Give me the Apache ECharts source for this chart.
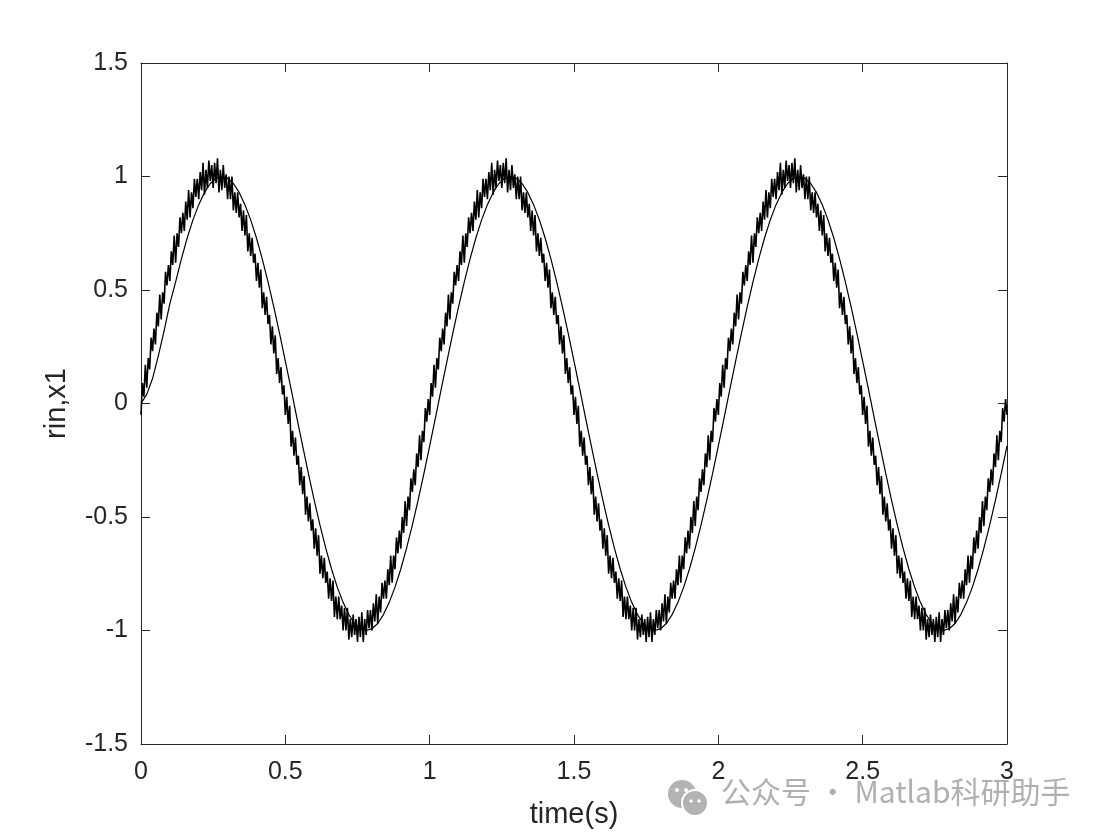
<!DOCTYPE html>
<html>
<head>
<meta charset="utf-8">
<script src="https://cdn.jsdelivr.net/npm/echarts@6/dist/echarts.min.js"></script>
<style>
html,body{margin:0;padding:0;background:#fff;}
#chart{width:1106px;height:834px;}
</style>
</head>
<body>
<div id="chart"></div>
<script>
// Axis ticks
var xTicks = [0, 0.5, 1, 1.5, 2, 2.5, 3];
var yTicks = [-1.5, -1, -0.5, 0, 0.5, 1, 1.5];

// Smooth curve (sampled every 0.02 s, from t = 0 to 3)
var smoothStep = 0.02;
var smoothValues = [
  0, 0.04, 0.11, 0.21, 0.32, 0.44,
  0.536,0.637,0.729,0.809,0.876,0.930,0.969,0.992,1,0.992,0.969,0.930,0.876,0.809,0.729,0.637,0.536,0.426,0.309,0.187,0.063,
  -0.063,-0.187,-0.309,-0.426,-0.536,-0.637,-0.729,-0.809,-0.876,-0.930,-0.969,-0.992,-1,-0.992,-0.969,-0.930,-0.876,-0.809,-0.729,-0.637,-0.536,-0.426,-0.309,-0.187,-0.063,
  0.063,0.187,0.309,0.426,0.536,0.637,0.729,0.809,0.876,0.930,0.969,0.992,1,0.992,0.969,0.930,0.876,0.809,0.729,0.637,0.536,0.426,0.309,0.187,0.063,
  -0.063,-0.187,-0.309,-0.426,-0.536,-0.637,-0.729,-0.809,-0.876,-0.930,-0.969,-0.992,-1,-0.992,-0.969,-0.930,-0.876,-0.809,-0.729,-0.637,-0.536,-0.426,-0.309,-0.187,-0.063,
  0.063,0.187,0.309,0.426,0.536,0.637,0.729,0.809,0.876,0.930,0.969,0.992,1,0.992,0.969,0.930,0.876,0.809,0.729,0.637,0.536,0.426,0.309,0.187,0.063,
  -0.063,-0.187,-0.309,-0.426,-0.536,-0.637,-0.729,-0.809,-0.876,-0.930,-0.969,-0.992,-1,-0.992,-0.969,-0.930,-0.876,-0.809,-0.729,-0.637,-0.536,-0.426,-0.309,-0.187
];

// Noisy curve (sampled every 0.005 s, from t = 0 to 3)
var noisyStep = 0.005;
var noisyValues = [
  // cycle 1
  -0.05,0.09,0.03,0.17,0.07,0.20,0.15,0.29,0.23,0.33,
  0.26,0.40,0.34,0.48,0.37,0.49,0.44,0.58,0.52,0.61,
  0.54,0.67,0.61,0.74,0.62,0.75,0.69,0.82,0.75,0.84,
  0.76,0.89,0.81,0.94,0.82,0.93,0.86,0.99,0.91,0.99,
  0.90,1.02,0.94,1.06,0.92,1.03,0.95,1.07,0.98,1.05,
  0.95,1.06,0.97,1.08,0.93,1.03,0.94,1.05,0.95,1.01,
  0.90,1.00,0.90,1.00,0.85,0.93,0.84,0.93,0.82,0.88,
  0.76,0.85,0.74,0.83,0.67,0.75,0.65,0.73,0.62,0.66,
  0.54,0.62,0.51,0.59,0.42,0.49,0.39,0.47,0.35,0.39,
  0.26,0.34,0.22,0.30,0.13,0.20,0.09,0.16,0.04,0.08,
  -0.05,0.03,-0.09,-0.01,-0.19,-0.12,-0.23,-0.15,-0.27,-0.23,
  -0.36,-0.28,-0.40,-0.32,-0.49,-0.41,-0.52,-0.44,-0.56,-0.51,
  -0.64,-0.55,-0.67,-0.58,-0.75,-0.67,-0.77,-0.68,-0.79,-0.74,
  -0.86,-0.77,-0.87,-0.78,-0.94,-0.85,-0.95,-0.85,-0.95,-0.89,
  -1.00,-0.90,-1.00,-0.90,-1.04,-0.95,-1.03,-0.93,-1.02,-0.95,
  -1.05,-0.94,-1.03,-0.92,-1.05,-0.95,-1.02,-0.91,-0.99,-0.91,
  -1.00,-0.88,-0.96,-0.84,-0.97,-0.85,-0.92,-0.79,-0.86,-0.78,
  -0.86,-0.73,-0.80,-0.67,-0.79,-0.67,-0.73,-0.59,-0.66,-0.56,
  -0.64,-0.50,-0.57,-0.43,-0.54,-0.41,-0.47,-0.33,-0.39,-0.29,
  -0.36,-0.22,-0.28,-0.14,-0.25,-0.12,-0.17,-0.02,-0.08,0.02,
  // cycle 2
  -0.05,0.09,0.03,0.17,0.07,0.20,0.15,0.29,0.23,0.33,
  0.26,0.40,0.34,0.48,0.37,0.49,0.44,0.58,0.52,0.61,
  0.54,0.67,0.61,0.74,0.62,0.75,0.69,0.82,0.75,0.84,
  0.76,0.89,0.81,0.94,0.82,0.93,0.86,0.99,0.91,0.99,
  0.90,1.02,0.94,1.06,0.92,1.03,0.95,1.07,0.98,1.05,
  0.95,1.06,0.97,1.08,0.93,1.03,0.94,1.05,0.95,1.01,
  0.90,1.00,0.90,1.00,0.85,0.93,0.84,0.93,0.82,0.88,
  0.76,0.85,0.74,0.83,0.67,0.75,0.65,0.73,0.62,0.66,
  0.54,0.62,0.51,0.59,0.42,0.49,0.39,0.47,0.35,0.39,
  0.26,0.34,0.22,0.30,0.13,0.20,0.09,0.16,0.04,0.08,
  -0.05,0.03,-0.09,-0.01,-0.19,-0.12,-0.23,-0.15,-0.27,-0.23,
  -0.36,-0.28,-0.40,-0.32,-0.49,-0.41,-0.52,-0.44,-0.56,-0.51,
  -0.64,-0.55,-0.67,-0.58,-0.75,-0.67,-0.77,-0.68,-0.79,-0.74,
  -0.86,-0.77,-0.87,-0.78,-0.94,-0.85,-0.95,-0.85,-0.95,-0.89,
  -1.00,-0.90,-1.00,-0.90,-1.04,-0.95,-1.03,-0.93,-1.02,-0.95,
  -1.05,-0.94,-1.03,-0.92,-1.05,-0.95,-1.02,-0.91,-0.99,-0.91,
  -1.00,-0.88,-0.96,-0.84,-0.97,-0.85,-0.92,-0.79,-0.86,-0.78,
  -0.86,-0.73,-0.80,-0.67,-0.79,-0.67,-0.73,-0.59,-0.66,-0.56,
  -0.64,-0.50,-0.57,-0.43,-0.54,-0.41,-0.47,-0.33,-0.39,-0.29,
  -0.36,-0.22,-0.28,-0.14,-0.25,-0.12,-0.17,-0.02,-0.08,0.02,
  // cycle 3
  -0.05,0.09,0.03,0.17,0.07,0.20,0.15,0.29,0.23,0.33,
  0.26,0.40,0.34,0.48,0.37,0.49,0.44,0.58,0.52,0.61,
  0.54,0.67,0.61,0.74,0.62,0.75,0.69,0.82,0.75,0.84,
  0.76,0.89,0.81,0.94,0.82,0.93,0.86,0.99,0.91,0.99,
  0.90,1.02,0.94,1.06,0.92,1.03,0.95,1.07,0.98,1.05,
  0.95,1.06,0.97,1.08,0.93,1.03,0.94,1.05,0.95,1.01,
  0.90,1.00,0.90,1.00,0.85,0.93,0.84,0.93,0.82,0.88,
  0.76,0.85,0.74,0.83,0.67,0.75,0.65,0.73,0.62,0.66,
  0.54,0.62,0.51,0.59,0.42,0.49,0.39,0.47,0.35,0.39,
  0.26,0.34,0.22,0.30,0.13,0.20,0.09,0.16,0.04,0.08,
  -0.05,0.03,-0.09,-0.01,-0.19,-0.12,-0.23,-0.15,-0.27,-0.23,
  -0.36,-0.28,-0.40,-0.32,-0.49,-0.41,-0.52,-0.44,-0.56,-0.51,
  -0.64,-0.55,-0.67,-0.58,-0.75,-0.67,-0.77,-0.68,-0.79,-0.74,
  -0.86,-0.77,-0.87,-0.78,-0.94,-0.85,-0.95,-0.85,-0.95,-0.89,
  -1.00,-0.90,-1.00,-0.90,-1.04,-0.95,-1.03,-0.93,-1.02,-0.95,
  -1.05,-0.94,-1.03,-0.92,-1.05,-0.95,-1.02,-0.91,-0.99,-0.91,
  -1.00,-0.88,-0.96,-0.84,-0.97,-0.85,-0.92,-0.79,-0.86,-0.78,
  -0.86,-0.73,-0.80,-0.67,-0.79,-0.67,-0.73,-0.59,-0.66,-0.56,
  -0.64,-0.50,-0.57,-0.43,-0.54,-0.41,-0.47,-0.33,-0.39,-0.29,
  -0.36,-0.22,-0.28,-0.14,-0.25,-0.12,-0.17,-0.02,-0.08,0.02,
  -0.05
];

var xLabel = 'time(s)';
var yLabel = 'rin,x1';
var watermark = '公众号 · Matlab科研助手';

function toPairs(vals, step) {
  var out = [];
  for (var i = 0; i < vals.length; i++) out.push([+(i * step).toFixed(4), vals[i]]);
  return out;
}

var chart = echarts.init(document.getElementById('chart'), null, {renderer: 'canvas'});
var axisColor = '#262626';
var fontFam = '"Liberation Sans", Arial, Helvetica, sans-serif';

var baseAxis = {
  axisLine: {show: true, onZero: false, lineStyle: {color: axisColor, width: 1}},
  axisTick: {show: true, inside: true, length: 9, lineStyle: {color: axisColor, width: 1}},
  splitLine: {show: false}
};

chart.setOption({
  animation: false,
  backgroundColor: '#ffffff',
  grid: {left: 141, right: 99, top: 63, bottom: 87, containLabel: false},
  xAxis: [
    Object.assign({}, baseAxis, {
      type: 'value', min: 0, max: 3, interval: 0.5, position: 'bottom',
      axisLabel: {color: axisColor, fontSize: 25, fontFamily: fontFam, margin: 16,
        formatter: function (v) { return String(v); }},
      name: xLabel, nameLocation: 'middle', nameGap: 56,
      nameTextStyle: {color: axisColor, fontSize: 29, fontFamily: fontFam}
    }),
    Object.assign({}, baseAxis, {
      type: 'value', min: 0, max: 3, interval: 0.5, position: 'top',
      axisLabel: {show: false}
    })
  ],
  yAxis: [
    Object.assign({}, baseAxis, {
      type: 'value', min: -1.5, max: 1.5, interval: 0.5, position: 'left',
      axisLabel: {color: axisColor, fontSize: 25, fontFamily: fontFam, margin: 13,
        formatter: function (v) { return String(v); }},
      name: yLabel, nameLocation: 'middle', nameGap: 70, nameRotate: 90,
      nameTextStyle: {color: axisColor, fontSize: 29, fontFamily: fontFam}
    }),
    Object.assign({}, baseAxis, {
      type: 'value', min: -1.5, max: 1.5, interval: 0.5, position: 'right',
      axisLabel: {show: false}
    })
  ],
  graphic: [
    {type: 'group', left: 668, top: 780, z: -10, children: [
      {type: 'circle', shape: {cx: 15, cy: 12, r: 14}, style: {fill: '#b3b3b3'}},
      {type: 'circle', shape: {cx: 28, cy: 21, r: 13}, style: {fill: '#b3b3b3', stroke: '#ffffff', lineWidth: 2}},
      {type: 'circle', shape: {cx: 10, cy: 8, r: 2}, style: {fill: '#ffffff'}},
      {type: 'circle', shape: {cx: 19, cy: 8, r: 2}, style: {fill: '#ffffff'}},
      {type: 'circle', shape: {cx: 24, cy: 19, r: 1.8}, style: {fill: '#ffffff'}},
      {type: 'circle', shape: {cx: 32, cy: 19, r: 1.8}, style: {fill: '#ffffff'}}
    ]},
    {type: 'text', left: 721, top: 777, z: -10,
      style: {text: watermark, fill: '#b0b0b0', fontSize: 30,
        fontFamily: '"Noto Sans CJK SC", "Noto Sans", sans-serif'}}
  ],
  series: [
    {type: 'line', name: 'rin', data: toPairs(smoothValues, smoothStep), showSymbol: false, symbol: 'none',
      lineStyle: {color: '#000000', width: 1.2}, smooth: false, sampling: null, z: 3},
    {type: 'line', name: 'x1', data: toPairs(noisyValues, noisyStep), showSymbol: false, symbol: 'none',
      lineStyle: {color: '#000000', width: 1.6}, smooth: false, sampling: null, z: 2}
  ]
});
</script>
</body>
</html>
